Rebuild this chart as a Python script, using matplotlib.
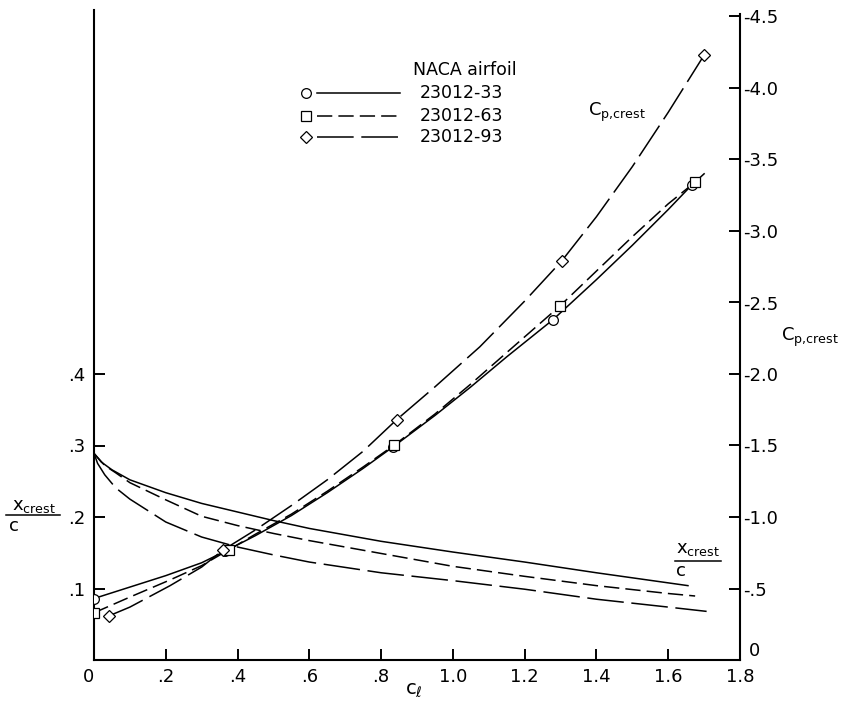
import numpy as np
import matplotlib
matplotlib.use("Agg")
import matplotlib.pyplot as plt
from matplotlib.lines import Line2D

plt.rcParams['font.family'] = ['DejaVu Sans']
plt.rcParams['mathtext.default'] = 'regular'

airfoils = ['23012-33', '23012-63', '23012-93']

# test points (section lift coefficient, crest pressure coefficient)
cl_pts_33 = [0.0, 0.365, 0.833, 1.279, 1.665]
cp_pts_33 = [-0.43, -0.76, -1.49, -2.38, -3.32]
cl_pts_63 = [0.0, 0.375, 0.835, 1.298, 1.674]
cp_pts_63 = [-0.33, -0.77, -1.50, -2.475, -3.34]
cl_pts_93 = [0.043, 0.36, 0.843, 1.303, 1.70]
cp_pts_93 = [-0.31, -0.77, -1.68, -2.79, -4.23]

# faired Cp,crest curves
cl_cp_33 = [0.0, 0.1, 0.2, 0.3, 0.365, 0.45, 0.55, 0.65, 0.75, 0.833, 0.95, 1.05,
            1.15, 1.279, 1.4, 1.5, 1.6, 1.665, 1.70]
cp_33 = [-0.43, -0.51, -0.59, -0.68, -0.76, -0.87, -1.01, -1.17, -1.34, -1.49, -1.71,
         -1.91, -2.12, -2.38, -2.66, -2.90, -3.15, -3.32, -3.40]
cl_cp_63 = [0.0, 0.1, 0.212, 0.3, 0.375, 0.45, 0.55, 0.65, 0.75, 0.835, 0.95, 1.05,
            1.15, 1.298, 1.4, 1.5, 1.6, 1.674]
cp_63 = [-0.33, -0.44, -0.56, -0.66, -0.77, -0.88, -1.02, -1.18, -1.35, -1.50, -1.72,
         -1.93, -2.15, -2.475, -2.72, -2.96, -3.19, -3.34]
cl_cp_93 = [0.043, 0.1, 0.212, 0.3, 0.36, 0.45, 0.55, 0.65, 0.75, 0.843, 0.95, 1.075,
            1.2, 1.303, 1.4, 1.5, 1.6, 1.70]
cp_93 = [-0.31, -0.37, -0.52, -0.65, -0.77, -0.91, -1.08, -1.26, -1.46, -1.68, -1.91,
         -2.19, -2.51, -2.79, -3.10, -3.45, -3.83, -4.23]

# faired x_crest/c curves
cl_x_33 = [0.0, 0.02, 0.05, 0.1, 0.2, 0.3, 0.4, 0.5, 0.6, 0.8, 1.0, 1.2, 1.4, 1.655]
x_33 = [0.289, 0.277, 0.266, 0.252, 0.234, 0.219, 0.207, 0.195, 0.184, 0.166, 0.151,
        0.137, 0.122, 0.104]
cl_x_63 = [0.0, 0.03, 0.06, 0.1, 0.2, 0.3, 0.4, 0.5, 0.6, 0.8, 1.0, 1.2, 1.4, 1.6, 1.675]
x_63 = [0.289, 0.272, 0.262, 0.248, 0.224, 0.201, 0.188, 0.177, 0.167, 0.149, 0.131,
        0.117, 0.104, 0.093, 0.0895]
cl_x_93 = [0.0, 0.01, 0.03, 0.06, 0.1, 0.2, 0.3, 0.4, 0.5, 0.6, 0.8, 1.0, 1.2, 1.4,
           1.6, 1.707]
x_93 = [0.289, 0.275, 0.259, 0.241, 0.225, 0.193, 0.172, 0.158, 0.147, 0.137, 0.122,
        0.111, 0.099, 0.085, 0.074, 0.068]

x_ticks = [0, 0.2, 0.4, 0.6, 0.8, 1.0, 1.2, 1.4, 1.6, 1.8]
x_labels = ['0', '.2', '.4', '.6', '.8', '1.0', '1.2', '1.4', '1.6', '1.8']
left_ticks = [0.1, 0.2, 0.3, 0.4]
left_labels = ['.1', '.2', '.3', '.4']
right_ticks = [0, -0.5, -1.0, -1.5, -2.0, -2.5, -3.0, -3.5, -4.0, -4.5]
right_labels = ['0', '-.5', '-1.0', '-1.5', '-2.0', '-2.5', '-3.0', '-3.5', '-4.0', '-4.5']

W, H = 852, 701
def px(x, y):
    return x / W, 1 - y / H

solid = dict(color='black', lw=1.1, linestyle='-')
short = dict(color='black', lw=1.1, dashes=(10, 4))
longd = dict(color='black', lw=1.1, dashes=(24, 5))
mk = dict(color='black', mfc='white', mec='black', mew=0.9, ms=7, linestyle='none', zorder=5)

fig = plt.figure(figsize=(W / 100, H / 100), dpi=100)
ax = fig.add_axes([94 / W, 1 - 660 / H, (740 - 94) / W, (660 - 10) / H])
ax2 = ax.twinx()

# x_crest/c on the left scale
ax.plot(cl_x_33, x_33, **solid)
ax.plot(cl_x_63, x_63, **short)
ax.plot(cl_x_93, x_93, **longd)

# Cp,crest on the right scale
ax2.plot(cl_cp_33, cp_33, **solid)
ax2.plot(cl_cp_63, cp_63, **short)
ax2.plot(cl_cp_93, cp_93, **longd)
ax2.plot(cl_pts_33, cp_pts_33, marker='o', **mk)
ax2.plot(cl_pts_63, cp_pts_63, marker='s', **mk)
ax2.plot(cl_pts_93, cp_pts_93, marker='D', **dict(mk, ms=6.5))

# 0.1 on the left scale and 0.5 on the right share 71.5 px
top = 650 / 715.0
ax.set_xlim(0, 1.8)
ax.set_ylim(0, top)
ax2.set_ylim(0, -5 * top)

for a in (ax, ax2):
    a.spines['top'].set_visible(False)
    for s in a.spines.values():
        s.set_linewidth(1.5)
ax.spines['right'].set_visible(False)
ax2.spines['left'].set_visible(False)
ax2.spines['bottom'].set_visible(False)
ax2.spines['right'].set_bounds(0, -4.52)

ax.set_xticks(x_ticks)
ax.set_xticklabels(x_labels)
ax.set_yticks(left_ticks)
ax.set_yticklabels(left_labels)
ax2.set_yticks(right_ticks)
ax2.set_yticklabels(right_labels)

ax.tick_params(axis='both', direction='in', length=8, width=1.4, labelsize=13, pad=6)
ax2.tick_params(axis='y', direction='in', length=8, width=1.4, labelsize=13, pad=2)
ax.get_xticklabels()[0].set_horizontalalignment('right')
ax2.get_yticklabels()[0].set_verticalalignment('bottom')
ax2.get_yticklabels()[0].set_x(1.01)

# axis titles
fig.text(*px(414, 690), r'$c_\ell$', fontsize=14, ha='center', va='center')
fig.text(*px(34, 506), r'$x_{crest}$', fontsize=13, ha='center', va='center')
fig.add_artist(Line2D([6 / W, 60 / W], [1 - 515 / H, 1 - 515 / H], color='black', lw=1.1))
fig.text(*px(14, 526), 'c', fontsize=13, ha='center', va='center')

fig.text(*px(781, 337), r'$C_{p{,}crest}$', fontsize=13, ha='left', va='center')
fig.text(*px(588, 112), r'$C_{p{,}crest}$', fontsize=13, ha='left', va='center')

fig.text(*px(698, 549), r'$x_{crest}$', fontsize=13, ha='center', va='center')
fig.add_artist(Line2D([675 / W, 721 / W], [1 - 561 / H, 1 - 561 / H], color='black', lw=1.1))
fig.text(*px(681, 571), 'c', fontsize=13, ha='center', va='center')

# key
fig.text(*px(465, 70), 'NACA airfoil', fontsize=12.5, ha='center', va='center')
rows = [(93, solid, 'o', 7), (116, short, 's', 7), (137, longd, 'D', 6.5)]
for (yy, style, m, ms), name in zip(rows, airfoils):
    fig.add_artist(Line2D([317 / W, 400 / W], [1 - yy / H] * 2, **style))
    fig.add_artist(Line2D([306 / W], [1 - yy / H], marker=m, ms=ms, mfc='white',
                          mec='black', mew=0.9, linestyle='none'))
    fig.text(*px(420, yy), name, fontsize=12.5, ha='left', va='center')

fig.savefig('out.png', dpi=100)
